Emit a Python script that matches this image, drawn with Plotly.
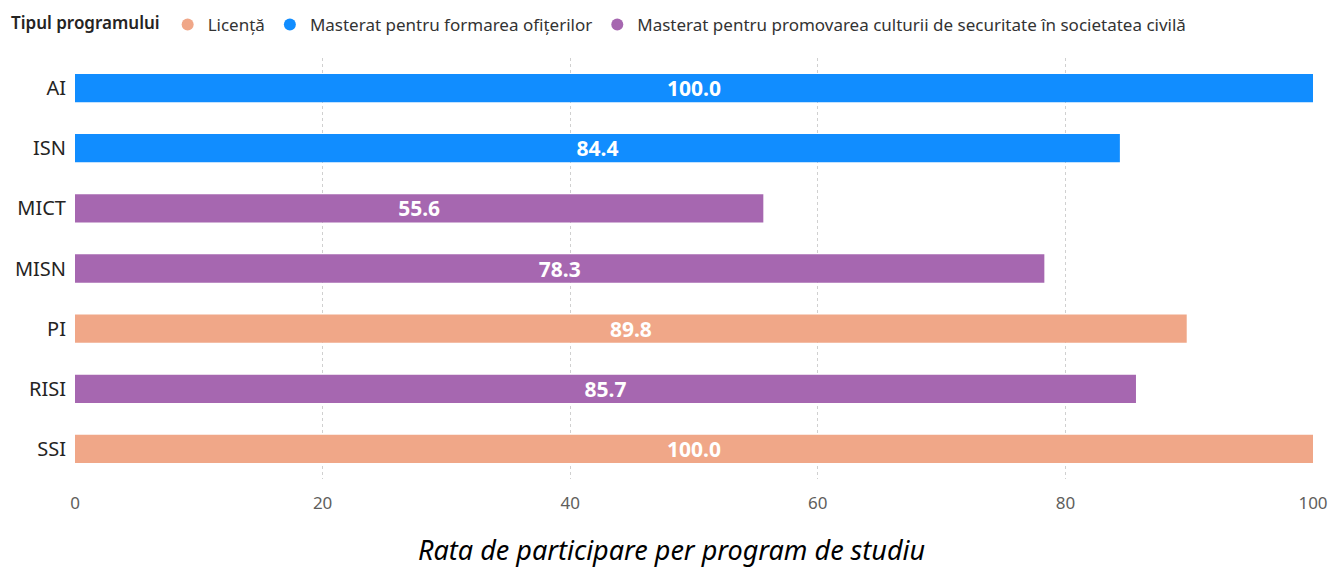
import plotly.graph_objects as go

categories = ["AI", "ISN", "MICT", "MISN", "PI", "RISI", "SSI"]
values = [100.0, 84.4, 55.6, 78.3, 89.8, 85.7, 100.0]
program_type = ["Masterat pentru formarea ofițerilor", "Masterat pentru formarea ofițerilor",
                "Masterat pentru promovarea culturii de securitate în societatea civilă",
                "Masterat pentru promovarea culturii de securitate în societatea civilă",
                "Licență",
                "Masterat pentru promovarea culturii de securitate în societatea civilă",
                "Licență"]
series_names = ["Licență", "Masterat pentru formarea ofițerilor",
                "Masterat pentru promovarea culturii de securitate în societatea civilă"]
series_colors = ["#F0A788", "#118DFF", "#A667B0"]
x_ticks = [0, 20, 40, 60, 80, 100]
chart_title = "Rata de participare per program de studiu"
legend_title = "Tipul programului"

FONT = "Noto Sans"
W, H = 1333, 569
ML, MR, MT, MB = 75, 20, 58, 90
fig = go.Figure()
for name, color in zip(series_names, series_colors):
    xs = [v for v, t in zip(values, program_type) if t == name]
    ys = [c for c, t in zip(categories, program_type) if t == name]
    fig.add_trace(go.Bar(
        x=xs, y=ys, orientation="h", name=name, showlegend=False,
        marker=dict(color=color, line=dict(width=0)),
        text=[f"{v:.1f}" for v in xs], textposition="inside",
        insidetextanchor="middle", constraintext="none",
        textfont=dict(family=FONT, size=21, color="white", weight="bold"),
        width=0.47,
    ))
    fig.add_trace(go.Scatter(
        x=[None], y=[None], mode="markers", name=name,
        marker=dict(color=color, size=10, symbol="circle"),
    ))

fig.update_layout(
    width=W, height=H,
    barmode="relative",
    plot_bgcolor="white", paper_bgcolor="white",
    margin=dict(l=ML, r=MR, t=MT, b=MB, autoexpand=False),
    font=dict(family=FONT, color="#252423"),
    uniformtext=dict(minsize=21, mode="show"),
    legend=dict(
        orientation="h", x=9 / W, xref="container", y=1 - 25 / H, yref="container",
        xanchor="left", yanchor="middle",
        title=dict(text=legend_title, font=dict(family=FONT, size=17, color="#252423", weight=600)),
        font=dict(family=FONT, size=17, color="#333333"),
        itemsizing="constant", itemwidth=30, tracegroupgap=0,
        bgcolor="rgba(0,0,0,0)",
    ),
    annotations=[dict(
        text=f"<i>{chart_title}</i>",
        x=(671 - ML) / (W - ML - MR), xref="x domain", xanchor="center",
        y=(H - MB - 549) / (H - MT - MB), yref="y domain", yanchor="middle",
        showarrow=False,
        font=dict(family=FONT, size=27, color="#000000"),
    )],
    bargap=0.53,
)
fig.update_xaxes(
    range=[0, 100], tickvals=x_ticks,
    showgrid=True, gridcolor="#D0D0D0", griddash="dot", gridwidth=1,
    zeroline=False, showline=False, automargin=False,
    tickfont=dict(family=FONT, size=17, color="#605E5C"),
    ticks="", ticklabelstandoff=12,
)
fig.update_yaxes(
    categoryorder="array", categoryarray=categories, autorange="reversed",
    showgrid=False, zeroline=False, showline=False, automargin=False,
    tickfont=dict(family=FONT, size=20, color="#252423"),
    ticks="", ticklabelstandoff=8,
)

fig.write_html(
    "out.html",
    config={"displayModeBar": False},
    post_script="document.body.style.margin='0';document.body.style.overflow='hidden';",
)
